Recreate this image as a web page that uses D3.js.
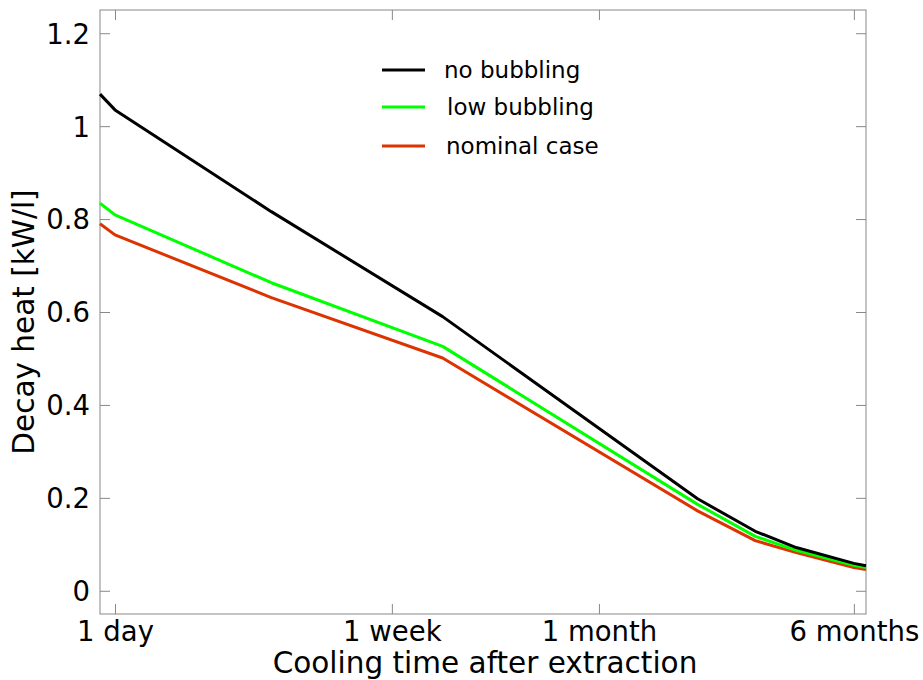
<!DOCTYPE html>
<html lang="en">
<head>
<meta charset="UTF-8">
<title>Decay heat</title>
<script src="https://d3js.org/d3.v7.min.js"></script>
<style>
  body { margin: 0; background: #fff; }
  svg text { font-family: "DejaVu Sans", sans-serif; fill: #000; }
</style>
</head>
<body>
<div id="chart"></div>
<script>
// cooling time in days
const days = [0.9, 1, 3, 10, 60, 90, 120, 180, 196];
const noBubbling = [1.069, 1.035, 0.816, 0.590, 0.198, 0.128, 0.093, 0.059, 0.054];
const lowBubbling = [0.834, 0.809, 0.663, 0.526, 0.186, 0.117, 0.087, 0.055, 0.050];
const nominalCase = [0.790, 0.766, 0.631, 0.501, 0.172, 0.108, 0.082, 0.050, 0.046];

const seriesNames = ["no bubbling", "low bubbling", "nominal case"];
const seriesColors = ["#000000", "#00ff00", "#dd3300"];

const xTickValues = [1, 7, 30, 180];
const xTickLabels = ["1 day", "1 week", "1 month", "6 months"];
const yTickValues = [0, 0.2, 0.4, 0.6, 0.8, 1, 1.2];

const width = 923, height = 680;
const margin = {left: 100, right: 57, top: 10, bottom: 66};
const innerW = width - margin.left - margin.right;
const innerH = height - margin.top - margin.bottom;

const svg = d3.select("#chart").append("svg")
    .attr("width", width)
    .attr("height", height);

const g = svg.append("g").attr("transform", `translate(${margin.left},${margin.top})`);

const x = d3.scaleLog().domain([0.9, 196]).range([0, innerW]);
const y = d3.scaleLinear().domain([-0.05, 1.25]).range([innerH, 0]);

const axisColor = "#888";
const tickLen = 10;

// frame
g.append("rect")
    .attr("width", innerW).attr("height", innerH)
    .attr("fill", "none").attr("stroke", axisColor).attr("stroke-width", 1);

// y axis, left + right (inward ticks)
const yLeft = g.append("g").call(d3.axisLeft(y).tickValues(yTickValues).tickSize(-tickLen).tickPadding(10)
    .tickFormat(d3.format("~g")));
const yRight = g.append("g").attr("transform", `translate(${innerW},0)`)
    .call(d3.axisRight(y).tickValues(yTickValues).tickSize(-tickLen).tickFormat(""));

// x axis, bottom + top
const xBottom = g.append("g").attr("transform", `translate(0,${innerH})`)
    .call(d3.axisBottom(x).tickValues(xTickValues).tickSize(-tickLen).tickPadding(6)
        .tickFormat((d, i) => xTickLabels[i]));
const xTop = g.append("g")
    .call(d3.axisTop(x).tickValues(xTickValues).tickSize(-tickLen).tickFormat(""));

[yLeft, yRight, xBottom, xTop].forEach(a => {
    a.select(".domain").remove();
    a.selectAll(".tick line").attr("stroke", axisColor);
    a.selectAll(".tick text").attr("font-size", 27.5).attr("font-family", "DejaVu Sans");
});
yLeft.selectAll(".tick text").attr("dy", "0.36em");
xBottom.selectAll(".tick text").attr("dy", "0.76em");

// lines
const line = d3.line().x((d, i) => x(days[i])).y(d => y(d));
const allSeries = [noBubbling, lowBubbling, nominalCase];

// draw nominal first so black sits on top
[2, 1, 0].forEach(k => {
    g.append("path")
        .datum(allSeries[k])
        .attr("d", line)
        .attr("fill", "none")
        .attr("stroke", seriesColors[k])
        .attr("stroke-width", 3)
        .attr("stroke-linejoin", "round");
});

// legend
const legendY = [70, 107, 146];
const legendTextX = [444, 447, 446];
seriesNames.forEach((name, i) => {
    svg.append("line")
        .attr("x1", 382).attr("x2", 425)
        .attr("y1", legendY[i]).attr("y2", legendY[i])
        .attr("stroke", seriesColors[i]).attr("stroke-width", 3);
    svg.append("text")
        .attr("x", legendTextX[i]).attr("y", legendY[i])
        .attr("dy", "0.35em")
        .attr("font-size", 23)
        .text(name);
});

// axis titles
svg.append("text")
    .attr("x", 485).attr("y", 673)
    .attr("text-anchor", "middle")
    .attr("font-size", 29.5)
    .text("Cooling time after extraction");

svg.append("text")
    .attr("transform", "translate(34,322) rotate(-90)")
    .attr("text-anchor", "middle")
    .attr("font-size", 29.5)
    .text("Decay heat [kW/l]");
</script>
</body>
</html>
